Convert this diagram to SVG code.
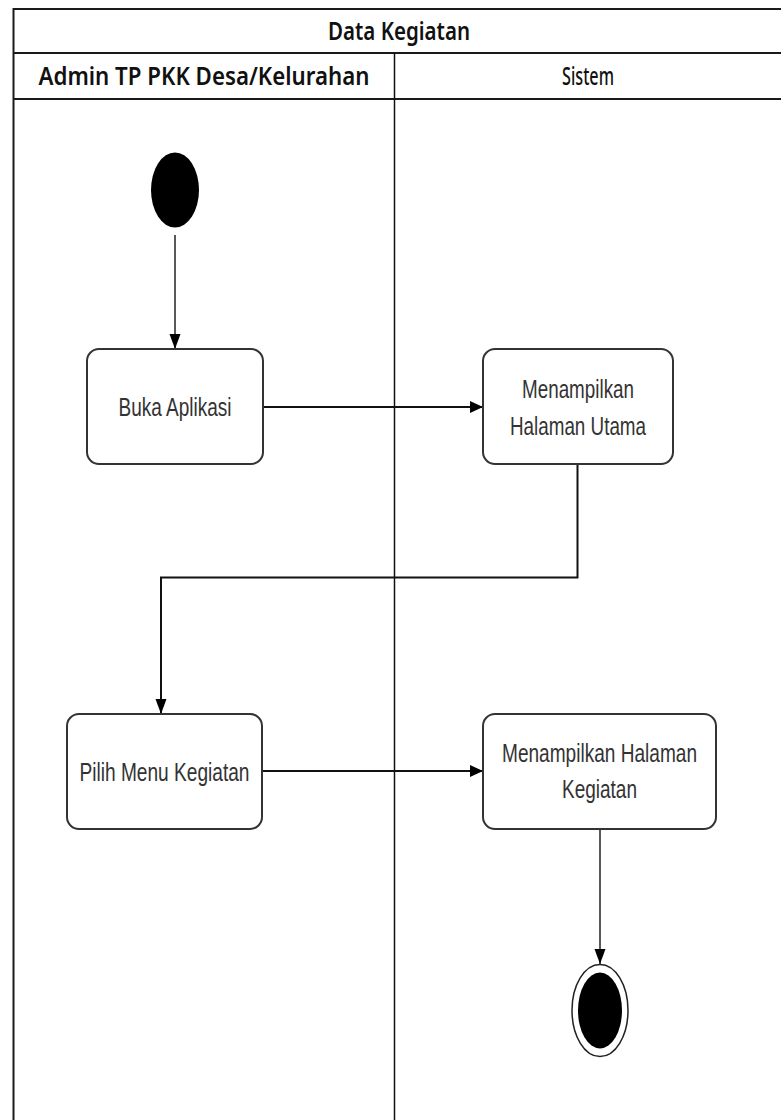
<svg xmlns="http://www.w3.org/2000/svg" width="781" height="1120" viewBox="0 0 781 1120">
<style>
.frame{fill:none;stroke:#1a1a1a;stroke-width:2}
.lane{stroke:#111;stroke-width:1.5;fill:none}
.hdr{font-family:"Noto Sans","DejaVu Sans","Liberation Sans",sans-serif;font-weight:600;font-size:25px;fill:#111;text-anchor:middle}
.box{fill:#fff;stroke:#333;stroke-width:2}
.lbl{font-family:"Liberation Sans Narrow","Liberation Sans",Arial,sans-serif;font-size:25px;fill:#333;text-anchor:middle}
.con{fill:none;stroke:#111;stroke-width:2}
.con2{fill:none;stroke:#222;stroke-width:1.5}
</style>
<defs>
<marker id="ah" viewBox="0 0 13 12" refX="13" refY="6" markerWidth="13" markerHeight="12" markerUnits="userSpaceOnUse" orient="auto">
<path d="M0,0 L13,6 L0,12 Z" fill="#000"/>
</marker>
<marker id="av" viewBox="0 0 15 12" refX="15" refY="6" markerWidth="15" markerHeight="12" markerUnits="userSpaceOnUse" orient="auto">
<path d="M0,0.5 L15,6 L0,11.5 Z" fill="#000"/>
</marker>
</defs>
<rect width="781" height="1120" fill="#fff"/>
<g id="swimlane">
<rect class="frame" x="13.5" y="9" width="772" height="1120"/>
<line class="frame" x1="13.5" y1="53" x2="785" y2="53"/>
<line class="frame" x1="13.5" y1="99" x2="785" y2="99"/>
<line class="lane" x1="394.5" y1="53" x2="394.5" y2="1125"/>
<text class="hdr" x="399" y="40" textLength="142" lengthAdjust="spacingAndGlyphs">Data Kegiatan</text>
<text class="hdr" x="204" y="85" textLength="331" lengthAdjust="spacingAndGlyphs">Admin TP PKK Desa/Kelurahan</text>
<text class="hdr" x="588" y="85" textLength="52" lengthAdjust="spacingAndGlyphs" style="font-weight:500">Sistem</text>
</g>
<g id="connectors">
<line class="con2" x1="175" y1="235" x2="175" y2="349" marker-end="url(#av)"/>
<line class="con" x1="263" y1="407" x2="483" y2="407" marker-end="url(#ah)"/>
<polyline class="con" points="577.5,464 577.5,577.5 161,577.5 161,714" marker-end="url(#av)"/>
<line class="con" x1="262" y1="771" x2="483" y2="771" marker-end="url(#ah)"/>
<line class="con2" x1="600" y1="829" x2="600" y2="964" marker-end="url(#av)"/>
</g>
<g id="start">
<ellipse cx="175" cy="190" rx="24" ry="37.5" fill="#000"/>
</g>
<g id="buka-aplikasi">
<rect class="box" x="87" y="349" width="176" height="115" rx="12"/>
<text class="lbl" x="175" y="416" textLength="113" lengthAdjust="spacingAndGlyphs">Buka Aplikasi</text>
</g>
<g id="menampilkan-halaman-utama">
<rect class="box" x="483" y="349" width="190" height="115" rx="12"/>
<text class="lbl" x="578" y="397.5" textLength="112" lengthAdjust="spacingAndGlyphs">Menampilkan</text>
<text class="lbl" x="578" y="434.5" textLength="136" lengthAdjust="spacingAndGlyphs">Halaman Utama</text>
</g>
<g id="pilih-menu-kegiatan">
<rect class="box" x="67" y="714" width="195" height="115" rx="12"/>
<text class="lbl" x="164.5" y="780.5" textLength="170" lengthAdjust="spacingAndGlyphs">Pilih Menu Kegiatan</text>
</g>
<g id="menampilkan-halaman-kegiatan">
<rect class="box" x="483" y="714" width="233" height="115" rx="12"/>
<text class="lbl" x="599.5" y="761.5" textLength="195" lengthAdjust="spacingAndGlyphs">Menampilkan Halaman</text>
<text class="lbl" x="599.5" y="797.5" textLength="75" lengthAdjust="spacingAndGlyphs">Kegiatan</text>
</g>
<g id="end">
<ellipse cx="600" cy="1010.5" rx="28" ry="46" fill="#fff" stroke="#222" stroke-width="1.5"/>
<ellipse cx="600" cy="1010.5" rx="22" ry="38" fill="#000"/>
</g>
</svg>
